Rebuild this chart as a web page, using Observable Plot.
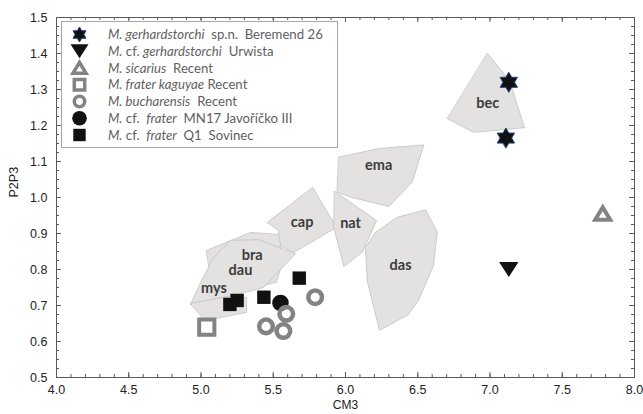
<!DOCTYPE html>
<html>
<head>
<meta charset="utf-8">
<script src="https://cdn.jsdelivr.net/npm/d3@7"></script>
<script src="https://cdn.jsdelivr.net/npm/@observablehq/plot@0.6"></script>
<style>
  html, body { margin: 0; padding: 0; background: #fff; }
  #chart svg { display: block; }
</style>
</head>
<body>
<div id="chart"></div>
<script>
// Outlines of the comparison groups, as [CM3, P2P3] vertices
const braOutline = [[5.038,0.853],[5.343,0.903],[5.550,0.897],[5.564,0.819],[5.522,0.764],[5.273,0.742],[5.066,0.783]];
const dauOutline = [[4.927,0.703],[4.997,0.764],[5.087,0.833],[5.204,0.881],[5.398,0.883],[5.654,0.844],[5.433,0.750],[5.225,0.728]];
const mysOutline = [[4.927,0.706],[5.225,0.728],[5.315,0.722],[5.315,0.681],[5.031,0.658]];
const capOutline = [[5.460,0.931],[5.772,1.028],[5.938,0.917],[5.640,0.847],[5.550,0.867],[5.536,0.908]];
const natOutline = [[5.924,1.0175],[6.215,0.936],[6.116,0.848],[5.988,0.808],[5.919,0.917]];
const emaOutline = [[5.954,1.112],[6.228,1.136],[6.542,1.146],[6.462,1.043],[6.300,0.975],[6.035,1.001],[5.943,1.015]];
const dasOutline = [[6.358,0.945],[6.554,0.966],[6.635,0.904],[6.609,0.811],[6.505,0.714],[6.436,0.675],[6.235,0.631],[6.150,0.769],[6.138,0.862],[6.208,0.903]];
const becOutline = [[6.983,1.400],[7.135,1.325],[7.239,1.194],[6.886,1.181],[6.706,1.219]];

const groupNames = ["bra", "dau", "mys", "cap", "nat", "ema", "das", "bec"];
const groupOutlines = [braOutline, dauOutline, mysOutline, capOutline, natOutline, emaOutline, dasOutline, becOutline];
const groupLabelX = [5.354, 5.273, 5.089, 5.700, 6.035, 6.381, 6.230, 6.985];
const groupLabelY = [0.839, 0.799, 0.749, 0.931, 0.927, 0.811, 1.089, 1.262];
const groupLabelText = ["bra", "dau", "mys", "cap", "nat", "das", "ema", "bec"];

// Specimens
const beremendCM3 = [7.13, 7.11];
const beremendP2P3 = [1.32, 1.165];
const urwistaCM3 = [7.13];
const urwistaP2P3 = [0.80];
const sicariusCM3 = [7.78];
const sicariusP2P3 = [0.955];
const kaguyaeCM3 = [5.04];
const kaguyaeP2P3 = [0.640];
const bucharensisCM3 = [5.79, 5.59, 5.45, 5.57];
const bucharensisP2P3 = [0.723, 0.677, 0.642, 0.629];
const javorickoCM3 = [5.55];
const javorickoP2P3 = [0.707];
const sovinecCM3 = [5.20, 5.25, 5.435, 5.68];
const sovinecP2P3 = [0.703, 0.714, 0.723, 0.776];

// Axis ticks
const xMajorTicks = [4.0, 4.5, 5.0, 5.5, 6.0, 6.5, 7.0, 7.5, 8.0];
const yMajorTicks = [0.5, 0.6, 0.7, 0.8, 0.9, 1.0, 1.1, 1.2, 1.3, 1.4, 1.5];
const xMinorTicks = d3.range(40, 81).map(d => d / 10);
const yMinorTicks = d3.range(20, 61).map(d => d / 40);

// Custom marker shapes (R is the half extent)
const ext = size => Math.sqrt(size / Math.PI);
const hexagram = {draw(ctx, size) {
  const R = ext(size), r = R / Math.sqrt(3);
  for (let k = 0; k < 12; ++k) {
    const a = -Math.PI / 2 + k * Math.PI / 6, d = k % 2 ? r : R;
    const px = d * Math.cos(a), py = d * Math.sin(a);
    k ? ctx.lineTo(px, py) : ctx.moveTo(px, py);
  }
  ctx.closePath();
}};
const triangleDown = {draw(ctx, size) {
  const R = ext(size);
  ctx.moveTo(-R, -0.78 * R); ctx.lineTo(R, -0.78 * R); ctx.lineTo(0, 0.78 * R); ctx.closePath();
}};
const triangleUp = {draw(ctx, size) {
  const R = ext(size);
  ctx.moveTo(0, -0.85 * R); ctx.lineTo(R, 0.8 * R); ctx.lineTo(-R, 0.8 * R); ctx.closePath();
}};
const squareBox = {draw(ctx, size) {
  const R = ext(size);
  ctx.moveTo(-R, -R); ctx.lineTo(R, -R); ctx.lineTo(R, R); ctx.lineTo(-R, R); ctx.closePath();
}};

const pts = (xs, ys) => xs.map((x, i) => ({x, y: ys[i]}));
const polygonRows = groupNames.flatMap((g, i) => groupOutlines[i].map(([x, y]) => ({group: g, x, y})));
const labelRows = groupLabelText.map((t, i) => ({text: t, x: groupLabelX[i], y: groupLabelY[i]}));

const grey = "#838383";
const black = "#111";
const frameColor = "#5a5a5a";
const plotW = 643 - 56 - 9, plotH = 414 - 17 - 37;

const chart = Plot.plot({
  width: 643,
  height: 414,
  marginLeft: 56,
  marginRight: 9,
  marginTop: 17,
  marginBottom: 37,
  style: {fontFamily: "'Liberation Sans', Arial, sans-serif", fontSize: "12.5px", color: "#222", background: "#fff"},
  x: {domain: [4, 8]},
  y: {domain: [0.5, 1.5]},
  marks: [
    // group outlines
    Plot.line(polygonRows, {x: "x", y: "y", z: "group", curve: "linear-closed", fill: "#e3e2e1", stroke: "#c2c2c2", strokeWidth: 0.8}),
    Plot.text(labelRows, {x: "x", y: "y", text: "text", fontFamily: "Lato, 'Open Sans', sans-serif", fontWeight: "bold", fontSize: 14.5, fill: "#3c3c3c"}),
    // specimens
    Plot.dot(pts(sovinecCM3, sovinecP2P3), {x: "x", y: "y", symbol: squareBox, r: 6.7, fill: black, stroke: "none"}),
    Plot.dot(pts(javorickoCM3, javorickoP2P3), {x: "x", y: "y", symbol: "circle", r: 8.3, fill: black, stroke: "none"}),
    Plot.dot(pts(bucharensisCM3, bucharensisP2P3), {x: "x", y: "y", symbol: "circle", r: 6.8, fill: "none", stroke: grey, strokeWidth: 4.5}),
    Plot.dot(pts(kaguyaeCM3, kaguyaeP2P3), {x: "x", y: "y", symbol: squareBox, r: 7.6, fill: "none", stroke: grey, strokeWidth: 4, strokeLinejoin: "miter"}),
    Plot.dot(pts(sicariusCM3, sicariusP2P3), {x: "x", y: "y", symbol: triangleUp, r: 7.5, fill: "none", stroke: grey, strokeWidth: 4, strokeLinejoin: "miter"}),
    Plot.dot(pts(urwistaCM3, urwistaP2P3), {x: "x", y: "y", symbol: triangleDown, r: 9.7, fill: black, stroke: "none"}),
    Plot.dot(pts(beremendCM3, beremendP2P3), {x: "x", y: "y", symbol: hexagram, r: 10, fill: black, stroke: "#1f3f78", strokeWidth: 1}),
    // frame and inward ticks
    Plot.frame({stroke: frameColor}),
    Plot.tickX(xMinorTicks, {x: d => d, insetTop: plotH - 3, stroke: frameColor}),
    Plot.tickX(xMinorTicks, {x: d => d, insetBottom: plotH - 3, stroke: frameColor}),
    Plot.tickX(xMajorTicks, {x: d => d, insetTop: plotH - 5, stroke: frameColor}),
    Plot.tickX(xMajorTicks, {x: d => d, insetBottom: plotH - 5, stroke: frameColor}),
    Plot.tickY(yMinorTicks, {y: d => d, insetRight: plotW - 3, stroke: frameColor}),
    Plot.tickY(yMinorTicks, {y: d => d, insetLeft: plotW - 3, stroke: frameColor}),
    Plot.tickY(yMajorTicks, {y: d => d, insetRight: plotW - 5, stroke: frameColor}),
    Plot.tickY(yMajorTicks, {y: d => d, insetLeft: plotW - 5, stroke: frameColor}),
    Plot.axisX({ticks: xMajorTicks, tickSize: 0, tickPadding: 8, tickFormat: d => d.toFixed(1), label: null}),
    Plot.axisY({ticks: yMajorTicks, tickSize: 0, tickPadding: 9, tickFormat: d => d.toFixed(1), label: null}),
    Plot.text(["CM3"], {frameAnchor: "bottom", dy: 31, fontSize: 12, fill: "#222"}),
    Plot.text(["P2P3"], {frameAnchor: "left", dx: -43, rotate: -90, fontSize: 12.5, fill: "#222"})
  ]
});

// Legend box in the upper left of the plot area
const legendEntries = [
  {shape: hexagram, r: 7.5, fill: black, stroke: "#1f3f78", sw: 1, parts: [["M. gerhardstorchi", true], ["  sp.n.  Beremend 26", false]]},
  {shape: triangleDown, r: 9, fill: black, stroke: "none", sw: 0, parts: [["M.", true], [" cf. ", false], ["gerhardstorchi", true], ["  Urwista", false]]},
  {shape: triangleUp, r: 6.5, fill: "none", stroke: grey, sw: 3.5, parts: [["M. sicarius", true], ["  Recent", false]]},
  {shape: squareBox, r: 5.2, fill: "none", stroke: grey, sw: 3.5, parts: [["M. frater kaguyae", true], [" Recent", false]]},
  {shape: d3.symbolCircle, r: 5.2, fill: "none", stroke: grey, sw: 3.5, parts: [["M. bucharensis", true], ["  Recent", false]]},
  {shape: d3.symbolCircle, r: 7.3, fill: black, stroke: "none", sw: 0, parts: [["M.", true], [" cf.  ", false], ["frater", true], ["  MN17 Javoříčko III", false]]},
  {shape: squareBox, r: 6.2, fill: black, stroke: "none", sw: 0, parts: [["M.", true], [" cf.  ", false], ["frater", true], ["  Q1  Sovinec", false]]}
];

const legend = d3.select(chart).append("g").attr("class", "legend").attr("text-anchor", "start");
legend.append("rect")
  .attr("x", 61.5).attr("y", 21.5).attr("width", 276).attr("height", 126)
  .attr("fill", "#fff").attr("stroke", "#a8a8a8").attr("stroke-width", 1);
legendEntries.forEach((e, i) => {
  const cy = 34.5 + i * 16.75;
  legend.append("path")
    .attr("transform", `translate(79.5,${cy})`)
    .attr("d", d3.symbol(e.shape, Math.PI * e.r * e.r)())
    .attr("fill", e.fill).attr("stroke", e.stroke).attr("stroke-width", e.sw)
    .attr("stroke-linejoin", "miter");
  const t = legend.append("text")
    .attr("x", 108).attr("y", cy).attr("dy", "0.35em")
    .attr("text-anchor", "start")
    .attr("font-family", "Lato, 'Open Sans', sans-serif")
    .attr("font-size", 13.2).attr("fill", "#5f5f5f")
    .style("white-space", "pre");
  e.parts.forEach(([s, it]) => t.append("tspan").attr("font-style", it ? "italic" : "normal").text(s));
});

document.getElementById("chart").append(chart);
</script>
</body>
</html>
